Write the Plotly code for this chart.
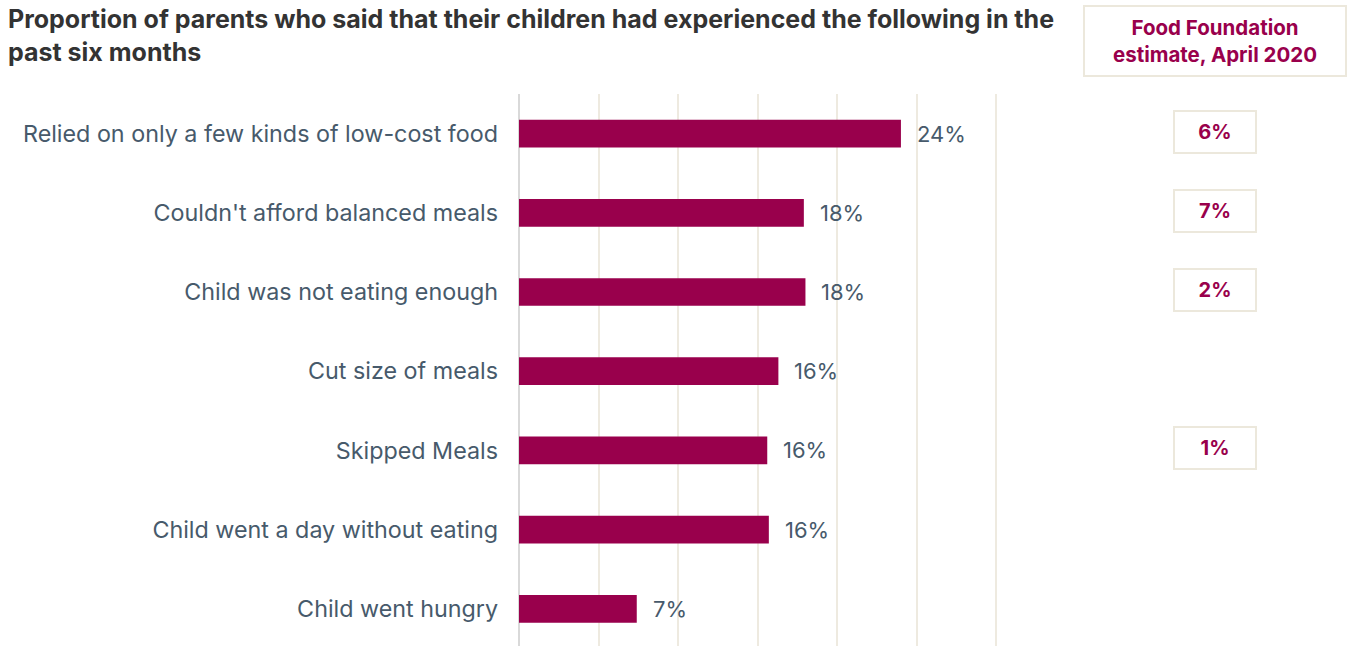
import plotly.graph_objects as go

# Survey results: share of parents reporting each experience (%)
categories = [
    "Relied on only a few kinds of low-cost food",
    "Couldn't afford balanced meals",
    "Child was not eating enough",
    "Cut size of meals",
    "Skipped Meals",
    "Child went a day without eating",
    "Child went hungry",
]
survey_pct = [24.0, 17.9, 18.0, 16.3, 15.6, 15.7, 7.4]

# Food Foundation estimate, April 2020 (None where no estimate exists)
ff_estimate_pct = [6, 7, 2, None, 1, None, None]
ff_header = "Food Foundation<br>estimate, April 2020"

title_text = ("Proportion of parents who said that their children had experienced the following in the"
              "<br>past six months")

x_ticks = [0, 5, 10, 15, 20, 25, 30]

BAR = "#99004c"
SLATE = "#475a6b"
GRID = "#eeeae0"
BOX_LINE = "#ece8dc"

W, H = 1349, 646
M_L, M_R, M_T, M_B = 519, 351, 94, 0
plot_w = W - M_L - M_R
plot_h = H - M_T - M_B


def px_x(px):
    return (px - M_L) / plot_w


def px_y(py):
    return (H - M_B - py) / plot_h


fig = go.Figure()

fig.add_trace(go.Bar(
    x=survey_pct,
    y=list(range(len(categories))),
    orientation="h",
    width=0.35,
    marker=dict(color=BAR, line=dict(width=0)),
    hoverinfo="skip",
))

# Value labels to the right of each bar
for i, v in enumerate(survey_pct):
    fig.add_annotation(
        x=v, y=i, xref="x", yref="y",
        text=f"{v:.0f}%", showarrow=False,
        xanchor="left", yanchor="middle", xshift=14,
        font=dict(family="Inter", size=22, color=SLATE),
    )

# Estimate boxes in the right-hand column
for i, e in enumerate(ff_estimate_pct):
    if e is None:
        continue
    fig.add_annotation(
        x=px_x(1214.5), y=i, xref="paper", yref="y",
        text=f"<b>{e}%</b>", showarrow=False,
        xanchor="center", yanchor="middle", yshift=2,
        width=80, height=40, borderpad=0,
        bordercolor=BOX_LINE, borderwidth=2, bgcolor="white",
        font=dict(family="Inter", size=20, color=BAR),
    )

# Column header box
fig.add_annotation(
    x=px_x(1214.7), y=px_y(41.3), xref="paper", yref="paper",
    text=f"<b>{ff_header}</b>", showarrow=False,
    xanchor="center", yanchor="middle",
    width=260, height=68, borderpad=0,
    bordercolor=BOX_LINE, borderwidth=2, bgcolor="white",
    font=dict(family="Inter", size=20.5, color=BAR),
)

# Chart title
fig.add_annotation(
    x=px_x(6), y=px_y(2), xref="paper", yref="paper",
    text=f"<b>{title_text}</b>", showarrow=False,
    xanchor="left", yanchor="top", align="left",
    font=dict(family="Inter", size=25, color="#333333"),
)

fig.update_layout(
    width=W, height=H,
    margin=dict(l=M_L, r=M_R, t=M_T, b=M_B, pad=0),
    paper_bgcolor="white", plot_bgcolor="white",
    showlegend=False,
    xaxis=dict(
        range=[0, 30.1], tickvals=x_ticks, showticklabels=False,
        showgrid=True, gridcolor=GRID, gridwidth=2,
        zeroline=True, zerolinecolor="#d9d9d9", zerolinewidth=2,
        showline=False, fixedrange=True,
    ),
    yaxis=dict(
        range=[6.47, -0.5],
        tickvals=list(range(len(categories))), ticktext=categories,
        showgrid=False, zeroline=False, showline=False,
        ticks="", ticklabelstandoff=20,
        tickfont=dict(family="Inter", size=23.3, color=SLATE),
        fixedrange=True,
    ),
)

fig.write_html("out.html")
